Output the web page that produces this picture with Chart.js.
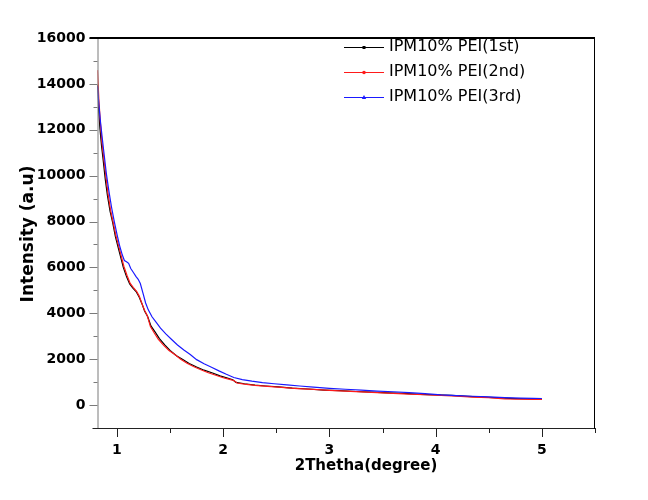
<!DOCTYPE html>
<html>
<head>
<meta charset="utf-8">
<script src="https://cdn.jsdelivr.net/npm/chart.js"></script>
<style>
  html, body { margin: 0; padding: 0; background: #fff; }
  canvas { display: block; }
</style>
</head>
<body>
<canvas id="chart" width="648" height="500"></canvas>
<script>
// series labels and colours
const seriesLabels = ['IPM10% PEI(1st)', 'IPM10% PEI(2nd)', 'IPM10% PEI(3rd)'];
const seriesColors = ['#000000', '#ff1a1a', '#1a1aff'];

// 1st run
const x1st = [0.817, 0.828, 0.84, 0.855, 0.87, 0.89, 0.91, 0.935, 0.96, 0.985, 1.01, 1.035, 1.06, 1.09, 1.12, 1.15, 1.18, 1.21, 1.235, 1.26, 1.29, 1.32, 1.36, 1.40, 1.45, 1.50, 1.56, 1.62, 1.68, 1.75, 1.82, 1.90, 1.97, 2.04, 2.09, 2.12, 2.2, 2.3, 2.4, 2.52, 2.65, 2.8, 2.95, 3.1, 3.25, 3.4, 3.55, 3.7, 3.85, 4.0, 4.15, 4.3, 4.45, 4.6, 4.75, 4.9, 5.0];
const y1st = [13950, 12900, 12050, 11300, 10700, 9850, 9150, 8450, 7950, 7350, 6900, 6450, 6000, 5600, 5280, 5100, 4950, 4700, 4420, 4100, 3850, 3450, 3180, 2900, 2620, 2380, 2150, 1990, 1810, 1660, 1520, 1400, 1270, 1180, 1100, 990, 930, 870, 830, 790, 740, 700, 655, 625, 590, 565, 530, 505, 470, 445, 420, 380, 350, 310, 280, 265, 255];

// 2nd run
const x2nd = [0.817, 0.83, 0.845, 0.86, 0.875, 0.895, 0.915, 0.94, 0.965, 0.99, 1.015, 1.04, 1.065, 1.095, 1.125, 1.155, 1.185, 1.21, 1.235, 1.26, 1.285, 1.315, 1.35, 1.39, 1.44, 1.49, 1.545, 1.60, 1.66, 1.72, 1.79, 1.86, 1.93, 2.0, 2.06, 2.1, 2.13, 2.2, 2.3, 2.42, 2.55, 2.7, 2.85, 3.0, 3.15, 3.3, 3.45, 3.6, 3.75, 3.9, 4.05, 4.2, 4.35, 4.5, 4.65, 4.8, 4.92, 5.0];
const y2nd = [14600, 13300, 12250, 11400, 10800, 10000, 9250, 8500, 7950, 7400, 6950, 6500, 6050, 5650, 5300, 5120, 4960, 4750, 4430, 4130, 3900, 3420, 3150, 2860, 2600, 2380, 2200, 2000, 1820, 1680, 1540, 1410, 1300, 1190, 1120, 1070, 960, 910, 860, 815, 770, 720, 680, 640, 610, 575, 540, 510, 480, 450, 425, 390, 350, 320, 270, 255, 250, 245];

// 3rd run
const x3rd = [0.817, 0.83, 0.845, 0.86, 0.88, 0.90, 0.925, 0.95, 0.975, 1.0, 1.025, 1.05, 1.07, 1.09, 1.11, 1.13, 1.155, 1.18, 1.2, 1.22, 1.245, 1.27, 1.295, 1.33, 1.37, 1.41, 1.46, 1.51, 1.57, 1.63, 1.69, 1.75, 1.82, 1.89, 1.96, 2.03, 2.1, 2.18, 2.27, 2.37, 2.48, 2.6, 2.72, 2.85, 3.0, 3.15, 3.3, 3.45, 3.6, 3.75, 3.9, 4.05, 4.2, 4.35, 4.5, 4.65, 4.8, 4.92, 5.0];
const y3rd = [13900, 13100, 12350, 11700, 10900, 10100, 9300, 8600, 8000, 7450, 6950, 6550, 6300, 6250, 6180, 5950, 5780, 5600, 5480, 5300, 4880, 4450, 4150, 3850, 3600, 3350, 3100, 2880, 2620, 2400, 2200, 1980, 1800, 1650, 1490, 1340, 1200, 1110, 1040, 980, 930, 880, 830, 780, 730, 690, 650, 610, 580, 540, 500, 445, 415, 385, 355, 325, 305, 295, 285];

// axis ticks
const xMajorTicks = [1, 2, 3, 4, 5];
const xMinorTicks = [1.5, 2.5, 3.5, 4.5, 5.5];
const yMajorTicks = [0, 2000, 4000, 6000, 8000, 10000, 12000, 14000, 16000];
const yMinorTicks = [-1000, 1000, 3000, 5000, 7000, 9000, 11000, 13000, 15000];

const xTitle = '2Thetha(degree)';
const yTitle = 'Intensity (a.u)';

function toPoints(xs, ys) {
    return xs.map((x, i) => ({ x: x, y: ys[i] }));
}

const seriesXs = [x1st, x2nd, x3rd];
const seriesYs = [y1st, y2nd, y3rd];

const datasets = seriesLabels.map((label, i) => ({
    label: label,
    data: toPoints(seriesXs[i], seriesYs[i]),
    borderColor: seriesColors[i],
    backgroundColor: seriesColors[i],
    borderWidth: 1.2,
    pointRadius: 0,
    showLine: true,
    tension: 0,
    fill: false,
    order: 3 - i
}));

const tickFont = { family: 'DejaVu Sans', size: 14, weight: 'bold' };

// frame, tick marks, titles and legend
const decorations = {
    id: 'decorations',
    afterDraw(chart) {
        const ctx = chart.ctx;
        const area = chart.chartArea;
        const xs = chart.scales.x;
        const ys = chart.scales.y;
        ctx.save();

        // tick marks on left axis
        ctx.strokeStyle = '#7a7a7a';
        ctx.lineWidth = 1;
        ctx.beginPath();
        yMajorTicks.forEach(v => {
            const p = Math.round(ys.getPixelForValue(v)) + 0.5;
            ctx.moveTo(area.left - 8, p);
            ctx.lineTo(area.left, p);
        });
        yMinorTicks.forEach(v => {
            const p = Math.round(ys.getPixelForValue(v)) + 0.5;
            ctx.moveTo(area.left - 4, p);
            ctx.lineTo(area.left, p);
        });
        ctx.moveTo(area.left + 0.5, area.top);
        ctx.lineTo(area.left + 0.5, area.bottom);
        ctx.stroke();

        // bottom axis
        ctx.strokeStyle = '#222';
        ctx.beginPath();
        ctx.moveTo(area.left - 5, area.bottom + 0.5);
        ctx.lineTo(area.right, area.bottom + 0.5);
        xMajorTicks.forEach(v => {
            const p = Math.round(xs.getPixelForValue(v)) + 0.5;
            ctx.moveTo(p, area.bottom);
            ctx.lineTo(p, area.bottom + 9);
        });
        xMinorTicks.forEach(v => {
            const p = Math.round(xs.getPixelForValue(v)) + 0.5;
            ctx.moveTo(p, area.bottom);
            ctx.lineTo(p, area.bottom + 5);
        });
        ctx.stroke();

        // right and top border
        ctx.strokeStyle = '#000';
        ctx.beginPath();
        ctx.moveTo(area.right - 0.5, area.top);
        ctx.lineTo(area.right - 0.5, area.bottom + 1);
        ctx.stroke();
        ctx.lineWidth = 2;
        ctx.beginPath();
        ctx.moveTo(area.left - 8, area.top);
        ctx.lineTo(area.right, area.top);
        ctx.stroke();

        // axis titles
        ctx.fillStyle = '#000';
        ctx.font = 'bold 15px "DejaVu Sans"';
        ctx.textAlign = 'center';
        ctx.textBaseline = 'middle';
        ctx.fillText(xTitle, 366, 466);

        ctx.save();
        ctx.translate(29, 234);
        ctx.rotate(-Math.PI / 2);
        ctx.font = 'bold 17px "DejaVu Sans"';
        ctx.fillText(yTitle, 0, 0);
        ctx.restore();

        // legend
        ctx.font = '16px "DejaVu Sans"';
        ctx.textAlign = 'left';
        ctx.textBaseline = 'middle';
        const rowY = [47, 72, 96.5];
        seriesLabels.forEach((label, i) => {
            const y = rowY[i];
            ctx.strokeStyle = seriesColors[i];
            ctx.fillStyle = seriesColors[i];
            ctx.lineWidth = 1;
            ctx.beginPath();
            ctx.moveTo(344, Math.round(y) + 0.5);
            ctx.lineTo(384, Math.round(y) + 0.5);
            ctx.stroke();
            const mx = 364, my = Math.round(y) + 0.5;
            ctx.beginPath();
            if (i === 0) {
                ctx.rect(mx - 1.5, my - 1.5, 3, 3);
            } else if (i === 1) {
                ctx.arc(mx, my, 1.8, 0, Math.PI * 2);
            } else {
                ctx.moveTo(mx, my - 2.5);
                ctx.lineTo(mx + 2.2, my + 1.5);
                ctx.lineTo(mx - 2.2, my + 1.5);
                ctx.closePath();
            }
            ctx.fill();
            ctx.fillStyle = '#000';
            ctx.fillText(label, 389, y);
        });

        ctx.restore();
    }
};

new Chart(document.getElementById('chart'), {
    type: 'scatter',
    data: { datasets: datasets },
    options: {
        responsive: false,
        animation: false,
        devicePixelRatio: 1,
        layout: { padding: { top: 38, right: 53, left: 0, bottom: 0 } },
        plugins: {
            legend: { display: false },
            tooltip: { enabled: false }
        },
        scales: {
            x: {
                type: 'linear',
                position: 'bottom',
                min: 0.817,
                max: 5.5,
                grid: { display: false, drawTicks: false },
                border: { display: false },
                afterBuildTicks: s => { s.ticks = xMajorTicks.concat(xMinorTicks).sort((a, b) => a - b).map(v => ({ value: v })); },
                afterFit: s => { s.height = 72; },
                ticks: {
                    font: tickFont,
                    color: '#000',
                    padding: 14,
                    autoSkip: false,
                    maxRotation: 0,
                    callback: v => Number.isInteger(v) ? String(v) : ''
                }
            },
            y: {
                type: 'linear',
                min: -1000,
                max: 16000,
                grid: { display: false, drawTicks: false },
                border: { display: false },
                afterBuildTicks: s => { s.ticks = yMajorTicks.map(v => ({ value: v })); },
                afterFit: s => { s.width = 97.5; },
                ticks: {
                    font: tickFont,
                    color: '#000',
                    padding: 12,
                    callback: v => String(v)
                }
            }
        }
    },
    plugins: [decorations]
});
</script>
</body>
</html>
